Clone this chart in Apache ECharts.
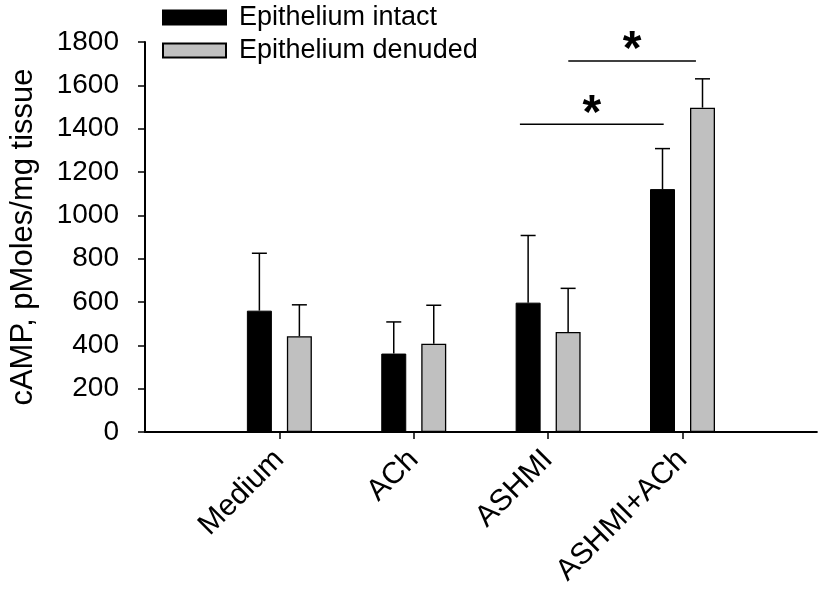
<!DOCTYPE html>
<html>
<head>
<meta charset="utf-8">
<script src="https://cdn.jsdelivr.net/npm/echarts@6/dist/echarts.min.js"></script>
<style>html,body{margin:0;padding:0;background:#fff}#c{width:819px;height:595px}</style>
</head>
<body>
<div id="c"></div>
<script>
const categories = ['', 'Medium', 'ACh', 'ASHMI', 'ASHMI+ACh', ''];
const intactMean = [null, 560, 362, 597, 1121, null];
const intactUpper = [null, 825, 508, 907, 1308, null];
const denudedMean = [null, 442, 407, 462, 1497, null];
const denudedUpper = [null, 587, 585, 663, 1630, null];
const yTicks = { min: 0, max: 1800, interval: 200 };
// significance brackets: [startCategory, startOffset, endCategory, endOffset, level]
const sigBrackets = [
  [3, -0.21, 4, -0.14, 1420],
  [3, 0.15, 4, 0.10, 1712]
];

const FONT = "'Liberation Sans', Arial, sans-serif";
const BAR_W = 25, BAR_GAP = 15;

function errData(means, uppers) {
  const out = [];
  means.forEach((m, i) => { if (m != null) out.push([i, m, uppers[i]]); });
  return out;
}
function errRender(offset) {
  return function (params, api) {
    const x = api.value(0);
    const base = api.coord([x, api.value(1)]);
    const top = api.coord([x, api.value(2)]);
    const cx = base[0] + offset;
    const st = { stroke: '#000', lineWidth: 1.5 };
    return { type: 'group', children: [
      { type: 'line', shape: { x1: cx, y1: base[1], x2: cx, y2: top[1] }, style: st },
      { type: 'line', shape: { x1: cx - 7.5, y1: top[1], x2: cx + 7.5, y2: top[1] }, style: st }
    ]};
  };
}

const chart = echarts.init(document.getElementById('c'), null, { renderer: 'canvas' });
chart.setOption({
  animation: false,
  backgroundColor: '#fff',
  textStyle: { fontFamily: FONT },
  grid: { left: 144, right: 2, top: 42, bottom: 163, containLabel: false },
  legend: {
    orient: 'vertical', left: 157, top: -1, itemWidth: 63, itemHeight: 14, itemGap: 6,
    icon: 'rect',
    textStyle: { fontSize: 27, color: '#000', fontFamily: FONT, padding: [0, 0, 0, 8] },
    data: ['Epithelium intact', 'Epithelium denuded']
  },
  xAxis: {
    type: 'category', data: categories, boundaryGap: false,
    axisLine: { lineStyle: { color: '#000', width: 2 } },
    axisTick: { show: true, length: 7, lineStyle: { color: '#000', width: 1.5 },
      interval: (i) => categories[i] !== '' },
    axisLabel: { rotate: 45, fontSize: 30, color: '#000', margin: 23, fontFamily: FONT, interval: 0 },
    splitLine: { show: false }
  },
  yAxis: {
    type: 'value', min: yTicks.min, max: yTicks.max, interval: yTicks.interval,
    name: 'cAMP, pMoles/mg tissue', nameLocation: 'middle', nameGap: 106,
    nameTextStyle: { fontSize: 31, color: '#000', fontFamily: FONT },
    axisLine: { show: true, lineStyle: { color: '#000', width: 2 } },
    axisTick: { show: true, length: 7, lineStyle: { color: '#000', width: 1.5 } },
    axisLabel: { fontSize: 28, color: '#000', margin: 26, fontFamily: FONT, formatter: (v) => String(v) },
    splitLine: { show: false }
  },
  series: [
    { name: 'Epithelium intact', type: 'bar', data: intactMean, barWidth: BAR_W, barGap: (BAR_GAP / BAR_W * 100) + '%',
      itemStyle: { color: '#000', borderColor: '#000', borderWidth: 1 } },
    { name: 'Epithelium denuded', type: 'bar', data: denudedMean, barWidth: BAR_W,
      itemStyle: { color: '#c0c0c0', borderColor: '#000', borderWidth: 1.3 } },
    { type: 'custom', data: errData(intactMean, intactUpper), renderItem: errRender(-(BAR_W + BAR_GAP) / 2),
      encode: { x: 0, y: 1 }, z: 5, silent: true },
    { type: 'custom', data: errData(denudedMean, denudedUpper), renderItem: errRender((BAR_W + BAR_GAP) / 2),
      encode: { x: 0, y: 1 }, z: 5, silent: true },
    { type: 'custom', data: sigBrackets, encode: { x: 0, y: 4 }, z: 6, silent: true,
      renderItem: function (params, api) {
        const c0 = api.value(0), o0 = api.value(1), c1 = api.value(2), o1 = api.value(3), lv = api.value(4);
        const p0 = api.coord([c0, lv]);
        const p1 = api.coord([c1, lv]);
        const bw = api.coord([1, lv])[0] - api.coord([0, lv])[0];
        const x0 = p0[0] + o0 * bw, x1 = p1[0] + o1 * bw;
        return { type: 'group', children: [
          { type: 'line', shape: { x1: x0, y1: p0[1], x2: x1, y2: p0[1] }, style: { stroke: '#000', lineWidth: 1.5 } },
          { type: 'text', style: { text: '*', x: (x0 + x1) / 2, y: p0[1] - 10, fill: '#000',
            font: 'bold 48px ' + FONT, textAlign: 'center', textVerticalAlign: 'middle' } }
        ]};
      } }
  ]
});
</script>
</body>
</html>
